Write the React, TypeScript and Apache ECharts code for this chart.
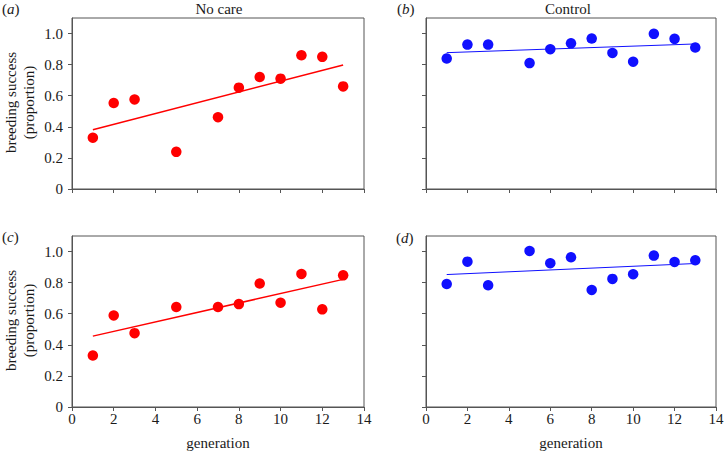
import React, { useEffect, useRef } from "react";
import * as echarts from "echarts";

const genA = [1, 2, 3, 5, 7, 8, 9, 10, 11, 12, 13];
const valA = [0.33, 0.553, 0.576, 0.239, 0.462, 0.652, 0.72, 0.71, 0.86, 0.85, 0.66];
const fitA = [0.381, 0.798];

const genB = [1, 2, 3, 5, 6, 7, 8, 9, 10, 11, 12, 13];
const valB = [0.839, 0.929, 0.929, 0.81, 0.899, 0.937, 0.968, 0.875, 0.819, 0.998, 0.966, 0.91];
const fitB = [0.877, 0.933];

const genC = [1, 2, 3, 5, 7, 8, 9, 10, 11, 12, 13];
const valC = [0.331, 0.589, 0.475, 0.643, 0.643, 0.662, 0.794, 0.671, 0.856, 0.628, 0.847];
const fitC = [0.456, 0.821];

const genD = [1, 2, 3, 5, 6, 7, 8, 9, 10, 11, 12, 13];
const valD = [0.791, 0.935, 0.783, 1.004, 0.925, 0.963, 0.753, 0.824, 0.854, 0.974, 0.933, 0.944];
const fitD = [0.852, 0.923];

const fitX = [1, 13];
const yTicks = [0, 0.2, 0.4, 0.6, 0.8, 1.0];
const titles = ["No care", "Control"];
const panelLetters = ["a", "b", "c", "d"];
const yTitle = "breeding success\n(proportion)";
const xTitle = "generation";

const FONT = "Liberation Serif";
const AX = "#555";
const TXT = "#1a1a1a";
const FS = 15;

export default function App() {
  const ref = useRef<HTMLDivElement>(null);
  useEffect(() => {
    document.body.style.margin = "0";
    const chart = echarts.init(ref.current!, null, { renderer: "svg" });
    const grids = [
      { left: 72, top: 18, width: 292, height: 171 },
      { left: 426, top: 18, width: 290, height: 171 },
      { left: 72, top: 236, width: 292, height: 171 },
      { left: 426, top: 236, width: 290, height: 171 },
    ];
    const panels = [
      { g: genA, v: valA, f: fitA, c: "#ff0000", lw: 1.5 },
      { g: genB, v: valB, f: fitB, c: "#1010ff", lw: 1 },
      { g: genC, v: valC, f: fitC, c: "#ff0000", lw: 1.5 },
      { g: genD, v: valD, f: fitD, c: "#1010ff", lw: 1 },
    ];
    const labelStyle = {
      color: TXT,
      fontFamily: FONT,
      fontSize: FS,
      fontWeight: "normal",
      fontStyle: "normal",
    };
    const xAxis = grids.map((_, i) => ({
      type: "value",
      gridIndex: i,
      min: 0,
      max: 14,
      interval: 2,
      splitLine: { show: false },
      axisLine: { show: true, onZero: false, lineStyle: { color: AX, width: 1 } },
      axisTick: { show: true, inside: false, length: 4, lineStyle: { color: AX } },
      axisLabel: {
        show: i >= 2,
        margin: 4,
        ...labelStyle,
      },
      name: i >= 2 ? xTitle : "",
      nameLocation: "middle",
      nameGap: 28,
      nameTextStyle: { ...labelStyle },
    }));
    const yAxis = grids.map((_, i) => ({
      type: "value",
      gridIndex: i,
      min: 0,
      max: 1.1,
      splitLine: { show: false },
      axisLine: { show: true, onZero: false, lineStyle: { color: AX, width: 1 } },
      axisTick: {
        show: true,
        inside: false,
        length: 4,
        lineStyle: { color: AX },
        customValues: yTicks,
      },
      axisLabel: {
        show: i % 2 === 0,
        margin: 9,
        ...labelStyle,
        customValues: yTicks,
        formatter: (v: number) => (v === 0 ? "0" : v.toFixed(1)),
      },
    }));
    const series: any[] = [];
    panels.forEach((p, i) => {
      series.push({
        type: "line",
        xAxisIndex: i,
        yAxisIndex: i,
        data: fitX.map((x, k) => [x, p.f[k]]),
        showSymbol: false,
        symbol: "none",
        lineStyle: { color: p.c, width: p.lw },
        z: 2,
      });
      series.push({
        type: "scatter",
        xAxisIndex: i,
        yAxisIndex: i,
        data: p.g.map((x, k) => [x, p.v[k]]),
        symbolSize: 10.5,
        itemStyle: { color: p.c, opacity: 1 },
        z: 3,
      });
    });
    const labelPos = [
      [2, 9],
      [397, 9],
      [2, 237],
      [396, 238],
    ];
    const graphic: any[] = [];
    panelLetters.forEach((l, i) => {
      graphic.push({
        type: "text",
        x: labelPos[i][0],
        y: labelPos[i][1],
        style: {
          text: "({i|" + l + "})",
          fontFamily: FONT,
          fontSize: FS,
          fill: TXT,
          verticalAlign: "middle",
          rich: { i: { fontStyle: "italic", fontFamily: FONT, fontSize: FS, fill: TXT } },
        },
      });
    });
    const titleX = [219, 568];
    titles.forEach((t, i) => {
      graphic.push({
        type: "text",
        x: titleX[i],
        y: 9,
        style: {
          text: t,
          fontFamily: FONT,
          fontSize: FS,
          fill: TXT,
          align: "center",
          verticalAlign: "middle",
        },
      });
    });
    [0, 2].forEach((gi) => {
      graphic.push({
        type: "text",
        x: 20,
        y: grids[gi].top + grids[gi].height / 2 - 1,
        rotation: Math.PI / 2,
        style: {
          text: yTitle,
          fontFamily: FONT,
          fontSize: FS,
          lineHeight: 18,
          fill: TXT,
          align: "center",
          verticalAlign: "middle",
        },
      });
    });
    chart.setOption({
      animation: false,
      backgroundColor: "#fff",
      textStyle: { fontFamily: FONT, fontSize: FS },
      grid: grids.map((g) => ({ ...g, show: true, borderColor: AX, borderWidth: 1, containLabel: false })),
      xAxis,
      yAxis,
      series,
      graphic,
    });
    return () => chart.dispose();
  }, []);
  return <div ref={ref} style={{ width: 728, height: 451 }} />;
}
